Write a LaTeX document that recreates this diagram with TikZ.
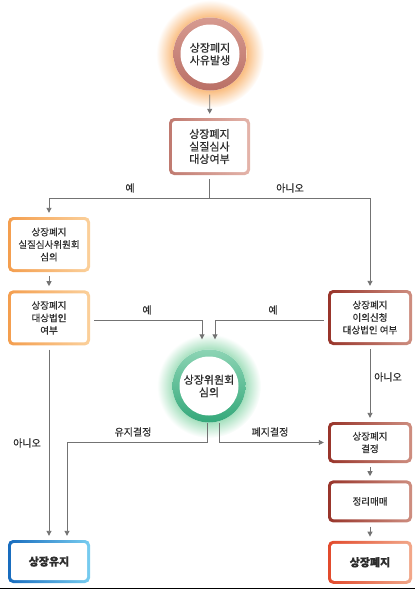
\documentclass[tikz,border=0pt]{standalone}
\usepackage{fontspec}
\setmainfont{Noto Sans CJK KR}[FakeBold=0.5]
\usetikzlibrary{arrows.meta, positioning, backgrounds}
\definecolor{lnkgray}{RGB}{115,115,115}
\definecolor{txtdark}{RGB}{45,45,45}
\definecolor{brpink}{RGB}{192,122,112}
\definecolor{brpinklt}{RGB}{228,180,170}
\definecolor{ringbr}{RGB}{214,154,144}
\definecolor{ringbrdk}{RGB}{186,112,102}
\definecolor{orng}{RGB}{244,158,78}
\definecolor{ornglt}{RGB}{251,208,155}
\definecolor{dred}{RGB}{152,52,42}
\definecolor{dredlt}{RGB}{206,142,128}
\definecolor{grn}{RGB}{52,168,122}
\definecolor{grnlt}{RGB}{140,212,180}
\definecolor{blu}{RGB}{24,108,190}
\definecolor{blult}{RGB}{120,205,240}
\definecolor{rred}{RGB}{226,74,44}
\definecolor{rredlt}{RGB}{242,168,138}
\definecolor{glowor}{RGB}{250,190,130}
\definecolor{glowgr}{RGB}{160,222,186}
\pgfdeclareradialshading{topglow}{\pgfpoint{0bp}{0bp}}{color(0bp)=(glowor); color(17bp)=(glowor); color(25bp)=(white); color(50bp)=(white)}
\pgfdeclareradialshading{midglow}{\pgfpoint{0bp}{0bp}}{color(0bp)=(glowgr); color(17bp)=(glowgr); color(25bp)=(white); color(50bp)=(white)}
\newcommand{\rgfont}{\fontsize{11}{12.5}\selectfont}
\newcommand{\bxfont}{\fontsize{9.5}{12.5}\selectfont}
\newcommand{\lbfont}{\fontsize{10}{12}\selectfont}

\begin{document}
\begin{tikzpicture}[x=1pt, y=1pt, font=\lbfont, text=txtdark,
  gbox/.style 2 args={rectangle, rounded corners=5pt, fill=white, align=center,
    minimum width=82pt, minimum height=55pt, inner sep=1pt, font=\bxfont,
    path picture={
      \shade[left color=#1, right color=#2] (path picture bounding box.south west) rectangle (path picture bounding box.north east);
      \fill[white, rounded corners=3pt] ([shift={(3pt,3pt)}]path picture bounding box.south west) rectangle ([shift={(-3pt,-3pt)}]path picture bounding box.north east);
    }},
  ring/.style 2 args={circle, fill=white, align=center, minimum size=73pt, inner sep=0pt, font=\rgfont,
    path picture={
      \shade[top color=#1, bottom color=#2] (path picture bounding box.south west) rectangle (path picture bounding box.north east);
      \fill[white] (path picture bounding box.center) circle (29.5pt);
    }},
  lnk/.style={draw=lnkgray, line width=0.9pt, shorten <=4pt},
  arr/.style={lnk, -{Triangle[length=5pt,width=5pt]}, shorten >=4pt}]

\useasboundingbox (0,0) rectangle (415,-590);

% steps
\node[ring={ringbr}{ringbrdk}] (cause) at (210,-54) {상장폐지\\사유발생};
\node[gbox={brpink}{brpinklt}, font=\rgfont, minimum width=81pt, minimum height=57pt] (chk) at (209.5,-146.5) {상장폐지\\실질심사\\대상여부};
\node[gbox={orng}{ornglt}] (rev) at (49,-244.5) {상장폐지\\실질심사위원회\\심의};
\node[gbox={orng}{ornglt}, below=18pt of rev] (tgt) {상장폐지\\대상법인\\여부};
\node[gbox={dred}{dredlt}, minimum width=84pt] (obj) at (370,-317.5) {상장폐지\\이의신청\\대상법인 여부};
\node[ring={grnlt}{grn}] (cmt) at (209,-386) {상장위원회\\심의};
\node[gbox={dred}{dredlt}, minimum width=84pt, minimum height=41pt] (dec) at (370,-442.5) {상장폐지\\결정};
\node[gbox={dred}{dredlt}, minimum width=84pt, minimum height=42pt, below=17pt of dec] (sell) {정리매매};
\node[gbox={rred}{rredlt}, minimum width=84pt, minimum height=43pt, font=\rgfont\bfseries, below=18pt of sell] (del) {상장폐지};
\node[gbox={blu}{blult}, minimum height=43pt, font=\rgfont\bfseries] (keep) at (49,-561.5) {상장유지};

% glow behind the two circles
\begin{scope}[on background layer]
  \shade[shading=topglow] (cause.center) circle (54pt);
  \shade[shading=midglow] (cmt.center) circle (52pt);
\end{scope}

% connectors
\draw[arr] (cause) -- (chk);
\draw[lnk] (chk.south) -- ++(0,-23) coordinate (fork);
\draw[arr, shorten <=0pt] (fork) -| (rev);
\draw[arr, shorten <=0pt] (fork) -| (obj);
\draw[arr] (rev) -- (tgt);
\draw[arr] ([yshift=-3pt]tgt.east) -| ([xshift=-7pt,yshift=6pt]cmt.north);
\draw[arr] ([yshift=-3pt]obj.west) -| ([xshift=6pt,yshift=6pt]cmt.north);
\draw[arr] (obj) -- (dec);
\draw[arr] (tgt) -- (keep);
\coordinate (kin) at ([xshift=18pt]keep.north);
\draw[arr, shorten <=0pt] ([xshift=-2pt]cmt.south) |- (kin |- dec.west) -- (kin);
\draw[arr, shorten <=0pt] ([xshift=10pt]cmt.south) |- (dec.west);
\draw[arr] (dec) -- (sell);
\draw[arr] (sell) -- (del);

% labels
\node (yesA) at (130,-188) {예};
\node (noA) at (290,-188) {아니오};
\node (yesB) at (147,-310) {예};
\node (yesC) at (273,-310) {예};
\node (noB) at (388,-377) {아니오};
\node (noC) at (27,-443) {아니오};
\node (stay) at (133,-432) {유지결정};
\node (drop) at (270,-432) {폐지결정};

% bottom rule
\draw[line width=1.5pt, black] (0,-588.5) -- (415,-588.5);
\end{tikzpicture}
\end{document}
